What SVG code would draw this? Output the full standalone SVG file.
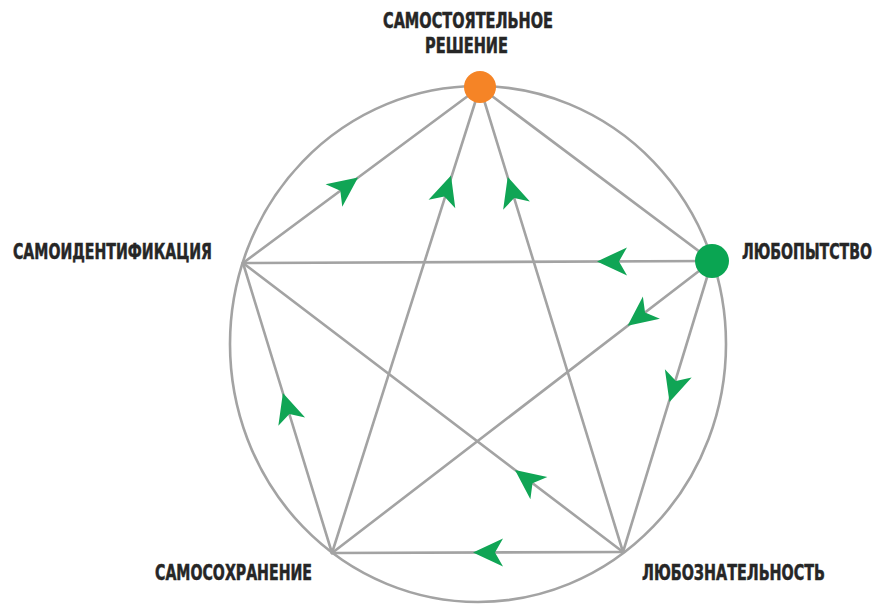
<svg xmlns="http://www.w3.org/2000/svg" width="881" height="604" viewBox="0 0 881 604">
<style>
.edge{stroke:#a3a3a3;stroke-width:2.6;fill:none;stroke-linecap:round}
.lbl{font-family:"Liberation Sans Narrow","DejaVu Sans Condensed","Liberation Sans",Arial,sans-serif;font-weight:bold;font-size:21px;fill:#262626;stroke:#262626;stroke-width:0.5}
.arr{fill:#10a555}
</style>
<defs>
<path id="ah" d="M0,0 L-30,-14 L-22,0 L-30,14 Z"/>
</defs>
<rect width="881" height="604" fill="#ffffff"/>
<g id="connectors">
<ellipse class="edge" cx="478" cy="344" rx="248" ry="258"/>
<line class="edge" x1="243" y1="263" x2="480" y2="87"/>
<line class="edge" x1="332" y1="553" x2="480" y2="87"/>
<line class="edge" x1="623" y1="552" x2="480" y2="87"/>
<line class="edge" x1="712" y1="261" x2="480" y2="87"/>
<line class="edge" x1="712" y1="261" x2="243" y2="263"/>
<line class="edge" x1="712" y1="261" x2="332" y2="553"/>
<line class="edge" x1="712" y1="261" x2="623" y2="552"/>
<line class="edge" x1="623" y1="552" x2="243" y2="263"/>
<line class="edge" x1="332" y1="553" x2="243" y2="263"/>
<line class="edge" x1="623" y1="552" x2="332" y2="553"/>
<use class="arr" href="#ah" transform="translate(358,177.6) rotate(-36.6)"/>
<use class="arr" href="#ah" transform="translate(451,175.5) rotate(-72.4)"/>
<use class="arr" href="#ah" transform="translate(507.7,177) rotate(-107.1)"/>
<use class="arr" href="#ah" transform="translate(597,261.5) rotate(179.8)"/>
<use class="arr" href="#ah" transform="translate(627.6,325.8) rotate(142.5)"/>
<use class="arr" href="#ah" transform="translate(669.5,402) rotate(107)"/>
<use class="arr" href="#ah" transform="translate(515,469.9) rotate(-142.7)"/>
<use class="arr" href="#ah" transform="translate(282.9,393) rotate(-107.1)"/>
<use class="arr" href="#ah" transform="translate(473,552.5) rotate(180)"/>
</g>
<g id="node-top">
<circle cx="480" cy="87" r="16" fill="#f58426"/>
<text class="lbl" x="383" y="28" textLength="170" lengthAdjust="spacingAndGlyphs">САМОСТОЯТЕЛЬНОЕ</text>
<text class="lbl" x="425" y="53" textLength="83" lengthAdjust="spacingAndGlyphs">РЕШЕНИЕ</text>
</g>
<g id="node-right">
<circle cx="712" cy="261" r="17" fill="#0aa552"/>
<text class="lbl" x="742" y="259" textLength="130" lengthAdjust="spacingAndGlyphs">ЛЮБОПЫТСТВО</text>
</g>
<g id="node-left">
<text class="lbl" x="13" y="259" textLength="199" lengthAdjust="spacingAndGlyphs">САМОИДЕНТИФИКАЦИЯ</text>
</g>
<g id="node-bottom-left">
<text class="lbl" x="155" y="580" textLength="157" lengthAdjust="spacingAndGlyphs">САМОСОХРАНЕНИЕ</text>
</g>
<g id="node-bottom-right">
<text class="lbl" x="642" y="580" textLength="183" lengthAdjust="spacingAndGlyphs">ЛЮБОЗНАТЕЛЬНОСТЬ</text>
</g>
</svg>
